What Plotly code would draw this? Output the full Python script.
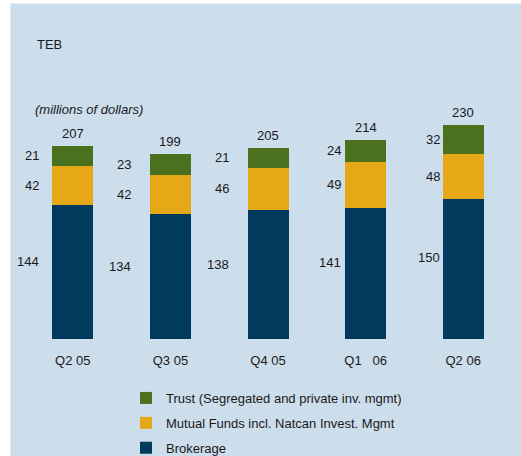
import plotly.graph_objects as go

categories = ["Q2 05", "Q3 05", "Q4 05", "Q1 06", "Q2 06"]
tick_labels = ["Q2 05", "Q3 05", "Q4 05", "Q1\u00a0\u00a0\u00a006", "Q2 06"]
brokerage = [144, 134, 138, 141, 150]
mutual_funds = [42, 42, 46, 49, 48]
trust = [21, 23, 21, 24, 32]
totals = [207, 199, 205, 214, 230]

series_names = ["Brokerage", "Mutual Funds incl. Natcan Invest. Mgmt",
                "Trust (Segregated and private inv. mgmt)"]

# style
W, H = 521, 456
L, R, T, B = 23.6, 8.6, 105.5, 117.3
BG = "#CCDDEC"
COLORS = ["#003A5C", "#E6A817", "#4A721E"]
RANKS = [3, 2, 1]
TXT = "#1A1A1A"
FONT = "Liberation Sans, Arial, sans-serif"
label_gap = [11, 17, 17, 2, 1]  # px gap between value labels and bar edge
BAR_HALF = 20.5

pw = W - L - R
ph = H - T - B


def px_x(x):
    return (x - L) / pw


def px_y(y):
    return (H - B - y) / ph


fig = go.Figure()
for name, vals, col, rk in zip(series_names, [brokerage, mutual_funds, trust], COLORS, RANKS):
    fig.add_trace(go.Bar(x=categories, y=vals, name=name, marker_color=col,
                         marker_line_width=0, legendgroup=name, legendrank=rk,
                         hoverinfo="skip"))

annotations = []
for i, c in enumerate(categories):
    b, m, t = brokerage[i], mutual_funds[i], trust[i]
    ys = [b * 0.58, b + m / 2, b + m + t / 2]
    for v, yv in zip([b, m, t], ys):
        annotations.append(dict(x=c, y=yv, xref="x", yref="y", text=str(v),
                                showarrow=False, xanchor="right", yanchor="middle",
                                xshift=-(BAR_HALF + label_gap[i]),
                                font=dict(size=13, color=TXT, family=FONT)))
    annotations.append(dict(x=c, y=totals[i], xref="x", yref="y", text=str(totals[i]),
                            showarrow=False, xanchor="center", yanchor="bottom",
                            yshift=3, font=dict(size=13, color=TXT, family=FONT)))

annotations.append(dict(x=px_x(35), y=px_y(44), xref="paper", yref="paper", text="TEB",
                        showarrow=False, xanchor="left", yanchor="middle",
                        font=dict(size=13, color=TXT, family=FONT)))
annotations.append(dict(x=px_x(33), y=px_y(109), xref="paper", yref="paper",
                        text="<i>(millions of dollars)</i>",
                        showarrow=False, xanchor="left", yanchor="middle",
                        font=dict(size=13, color=TXT, family=FONT)))

shapes = [
    dict(type="rect", xref="paper", yref="paper", x0=px_x(-5), x1=px_x(10),
         y0=px_y(H + 5), y1=px_y(-5), fillcolor="white", line_width=0, layer="below"),
    dict(type="rect", xref="paper", yref="paper", x0=px_x(-5), x1=px_x(W + 5),
         y0=px_y(3), y1=px_y(-5), fillcolor="white", line_width=0, layer="below"),
]

fig.update_layout(
    width=W, height=H,
    margin=dict(l=L, r=R, t=T, b=B, pad=0, autoexpand=False),
    barmode="stack", bargap=0.58,
    paper_bgcolor=BG, plot_bgcolor=BG,
    font=dict(family=FONT, size=13, color=TXT),
    xaxis=dict(tickvals=categories, ticktext=tick_labels, showgrid=False, zeroline=False,
               showline=False, ticks="", ticklabelstandoff=12, fixedrange=True,
               tickfont=dict(size=13, color=TXT), range=[-0.5, 4.5]),
    yaxis=dict(range=[0, 250], visible=False, fixedrange=True),
    showlegend=True,
    hovermode=False,
    legend=dict(xref="container", yref="container", x=126 / W, y=1 - 383 / H,
                xanchor="left", yanchor="top",
                traceorder="grouped", tracegroupgap=5, bgcolor="rgba(0,0,0,0)",
                font=dict(size=13, color=TXT, family=FONT)),
    annotations=annotations,
    shapes=shapes,
)

fig.write_html("out.html",
               post_script="document.body.style.margin='0';"
                           "document.body.style.overflow='hidden';",
               config={"displayModeBar": False})
